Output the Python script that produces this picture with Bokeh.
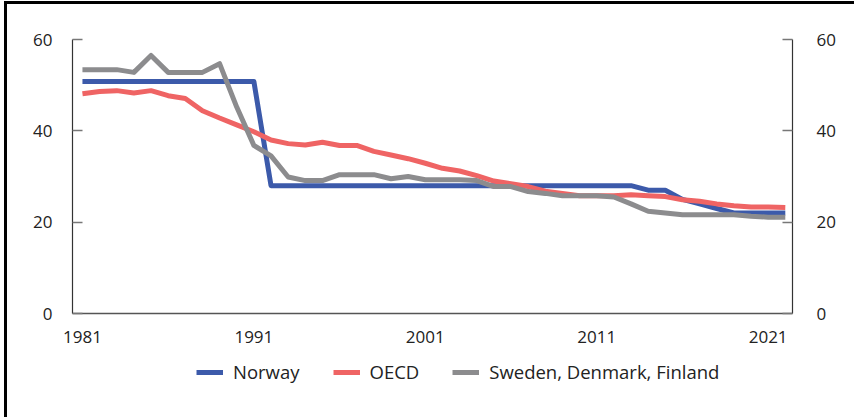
from bokeh.plotting import figure
from bokeh.layouts import column
from bokeh.models import Range1d, LinearAxis, FixedTicker, Legend, LegendItem
from bokeh.embed import file_html
from bokeh.resources import INLINE

years = list(range(1981, 2023))
norway = [50.8, 50.8, 50.8, 50.8, 50.8, 50.8, 50.8, 50.8, 50.8, 50.8, 50.8,
          28.0, 28.0, 28.0, 28.0, 28.0, 28.0, 28.0, 28.0, 28.0, 28.0, 28.0,
          28.0, 28.0, 28.0, 28.0, 28.0, 28.0, 28.0, 28.0, 28.0, 28.0, 28.0,
          27.0, 27.0, 25.0, 24.0, 23.0, 22.0, 22.0, 22.0, 22.0]
oecd = [48.1, 48.6, 48.8, 48.3, 48.8, 47.7, 47.1, 44.4, 42.8, 41.3, 39.8,
        38.0, 37.2, 36.9, 37.5, 36.8, 36.8, 35.5, 34.7, 33.9, 32.9, 31.8,
        31.2, 30.2, 29.0, 28.4, 27.8, 26.8, 26.3, 25.8, 25.8, 25.8, 26.0,
        25.8, 25.6, 24.9, 24.6, 24.0, 23.6, 23.3, 23.3, 23.2]
nordic = [53.4, 53.4, 53.4, 52.8, 56.5, 52.8, 52.8, 52.8, 54.7, 45.2, 36.8,
          34.5, 29.9, 29.1, 29.1, 30.4, 30.4, 30.4, 29.5, 30.0, 29.3, 29.3,
          29.3, 29.1, 27.8, 27.8, 26.7, 26.3, 25.8, 25.8, 25.8, 25.5, 24.0,
          22.4, 22.0, 21.6, 21.6, 21.6, 21.6, 21.3, 21.1, 21.1]
series_names = ["Norway", "OECD", "Sweden, Denmark, Finland"]
series_colors = ["#3c5aaa", "#ef6464", "#8c8c8e"]
x_ticks = [1981, 1991, 2001, 2011, 2021]
y_ticks = [0, 20, 40, 60]

FONT = "Open Sans"
TXT = "#222222"

p = figure(width=847, height=349, output_backend="svg", toolbar_location=None,
           x_range=Range1d(1980.42, 2022.42), y_range=Range1d(0, 60),
           min_border_left=65, min_border_right=62, min_border_top=35,
           min_border_bottom=40, x_axis_location=None, y_axis_location=None)
p.outline_line_color = None
p.xgrid.visible = False
p.ygrid.visible = False
p.background_fill_color = "white"
p.border_fill_color = "white"

series = [norway, oecd, nordic]
for vals, col in zip(series, series_colors):
    p.line(years, vals, line_color=col, line_width=5, line_join="round")

xaxis = LinearAxis(ticker=FixedTicker(ticks=x_ticks))
xaxis.major_tick_line_color = None
xaxis.minor_tick_line_color = None
xaxis.axis_line_color = "#555555"
xaxis.axis_line_width = 1.5
xaxis.major_label_text_font = FONT
xaxis.major_label_text_font_size = "17px"
xaxis.major_label_text_color = TXT
xaxis.major_label_standoff = 11
p.add_layout(xaxis, "below")

for side, standoff in [("left", 20), ("right", 24)]:
    ax = LinearAxis(ticker=FixedTicker(ticks=y_ticks))
    ax.major_tick_in = 10
    ax.major_tick_out = 0
    ax.minor_tick_line_color = None
    ax.major_tick_line_color = "#777777"
    ax.major_tick_line_width = 1.5
    ax.axis_line_color = "#333333"
    ax.axis_line_width = 1.2
    ax.major_label_text_font = FONT
    ax.major_label_text_font_size = "17px"
    ax.major_label_text_color = TXT
    ax.major_label_standoff = standoff
    p.add_layout(ax, side)

# legend strip below the chart (series drawn out of its visible range, only
# their legend glyphs show)
p2 = figure(width=847, height=64, output_backend="svg", toolbar_location=None,
            x_range=Range1d(0, 1), y_range=Range1d(0, 1),
            min_border_left=65, min_border_right=62, min_border_top=0,
            min_border_bottom=0, x_axis_location=None, y_axis_location=None)
p2.outline_line_color = None
p2.xgrid.visible = False
p2.ygrid.visible = False
p2.background_fill_color = "white"
p2.border_fill_color = "white"
leg_renderers = [p2.line(years, vals, line_color=col, line_width=5)
                 for vals, col in zip(series, series_colors)]

legend = Legend(items=[LegendItem(label=n, renderers=[r]) for n, r in zip(series_names, leg_renderers)],
                orientation="horizontal", location=(124, 33))
legend.border_line_color = None
legend.background_fill_alpha = 0
legend.padding = 0
legend.margin = 0
legend.spacing = 33
legend.glyph_width = 27
legend.glyph_height = 20
legend.label_standoff = 10
legend.label_text_font = FONT
legend.label_text_font_size = "18.5px"
legend.label_text_color = TXT
p2.add_layout(legend, "center")

layout = column(p, p2, spacing=0)
layout.margin = (1, 0, 0, 4)
layout.styles = {"border-left": "3px solid #000000", "border-top": "3px solid #000000"}

open("out.html", "w").write(file_html(layout, INLINE))
